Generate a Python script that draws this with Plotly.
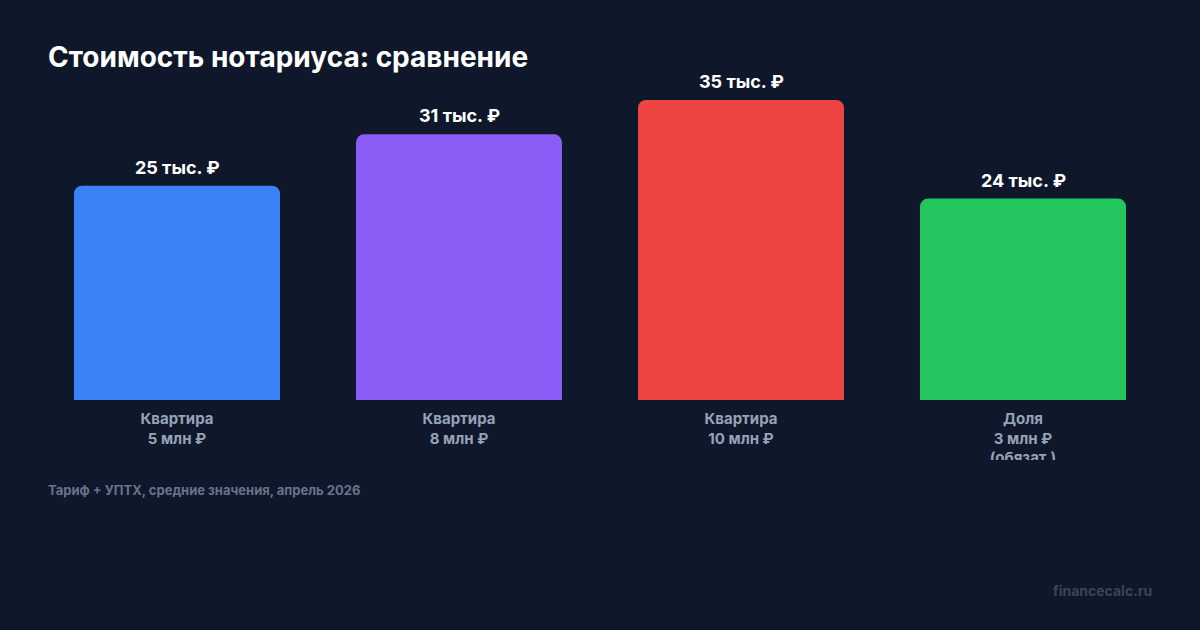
import plotly.graph_objects as go

categories = ["Квартира<br>5 млн ₽", "Квартира<br>8 млн ₽", "Квартира<br>10 млн ₽", "Доля<br>3 млн ₽<br>(обязат.)"]
values = [25, 31, 35, 23.5]
value_labels = ["25 тыс. ₽", "31 тыс. ₽", "35 тыс. ₽", "24 тыс. ₽"]
colors = ["#3b82f6", "#8b5cf6", "#ef4444", "#22c55e"]

BG = "#0f172a"
W, H = 1200, 630
L, R, T, B = 36, 36, 60, 230
PW, PH = W - L - R, H - T - B

def px_x(px):
    return (px - L) / PW

def px_y(py):
    return (H - B - py) / PH

fig = go.Figure()
fig.add_trace(go.Bar(
    x=list(range(len(categories))),
    y=values,
    marker=dict(color=colors, line=dict(width=0)),
    hoverinfo="skip",
))

for i, (v, lab) in enumerate(zip(values, value_labels)):
    fig.add_annotation(x=i, y=v, text=lab, showarrow=False, yanchor="bottom", yshift=6,
                       font=dict(family="Inter", size=18, color="#ffffff", weight="bold"))

fig.add_annotation(xref="paper", yref="paper", x=px_x(46), y=px_y(490), xanchor="left", yanchor="middle",
                   text="Тариф + УПТХ, средние значения, апрель 2026", showarrow=False,
                   font=dict(family="Inter", size=13, color="#64748b", weight="bold"))
fig.add_annotation(xref="paper", yref="paper", x=px_x(1154), y=px_y(590), xanchor="right", yanchor="middle",
                   text="financecalc.ru", showarrow=False,
                   font=dict(family="Inter", size=14, color="#3a4559", weight="bold"))

# clip area below the category labels (reference cuts the third line)
fig.add_shape(type="rect", xref="paper", yref="paper", x0=-0.05, x1=1.05, y0=px_y(478), y1=px_y(460),
              fillcolor=BG, line=dict(width=0), layer="above")

fig.update_layout(
    width=W, height=H,
    paper_bgcolor=BG, plot_bgcolor=BG,
    margin=dict(l=L, r=R, t=T, b=B, autoexpand=False),
    bargap=76 / 282,
    barcornerradius=8,
    showlegend=False,
    title=dict(text="Стоимость нотариуса: сравнение", xref="container", yref="container",
               x=48 / W, xanchor="left", y=1 - 57 / H, yanchor="middle",
               font=dict(family="Inter", size=28, color="#ffffff", weight="bold")),
    xaxis=dict(tickmode="array", tickvals=list(range(len(categories))), ticktext=categories,
               range=[-0.5, 3.5], showgrid=False, zeroline=False, showline=False, ticks="",
               ticklabelstandoff=8,
               tickfont=dict(family="Inter", size=15, color="#94a3b8", weight="bold"), fixedrange=True),
    yaxis=dict(range=[0, PH / ((400 - 100) / 35)], visible=False, fixedrange=True),
)

fig.write_html("out.html")
